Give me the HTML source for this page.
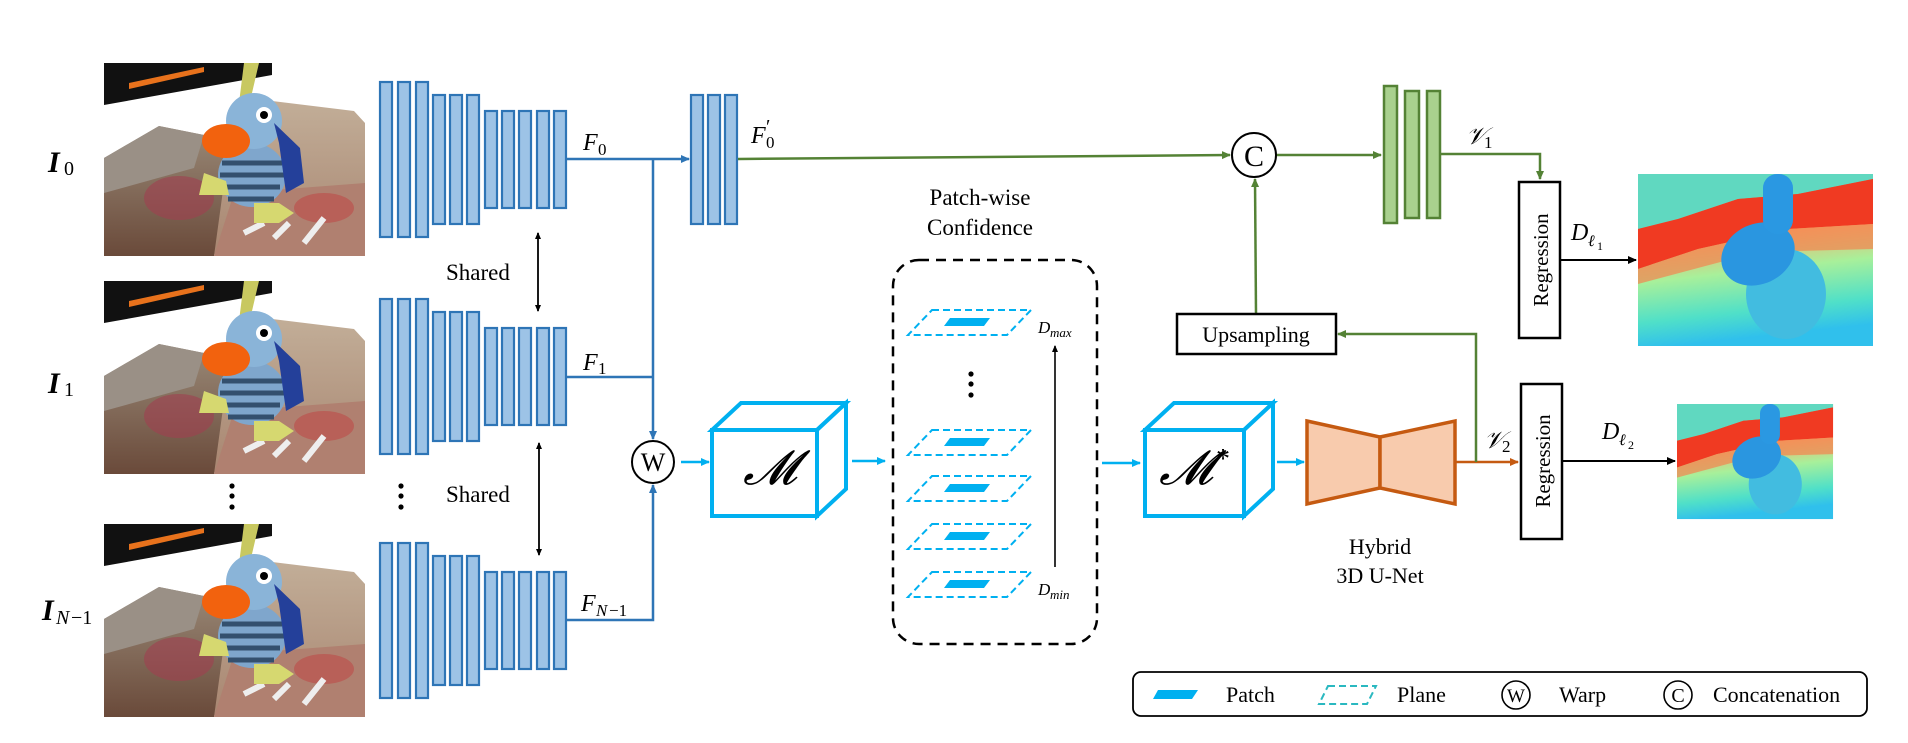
<!DOCTYPE html>
<html><head><meta charset="utf-8"><style>
html,body{margin:0;padding:0;background:#fff;}
svg{display:block;}
text{font-family:"Liberation Serif",serif;fill:#000;}
.it{font-style:italic;}
</style></head><body>
<svg width="1908" height="743" viewBox="0 0 1908 743" xmlns="http://www.w3.org/2000/svg">
<defs>
<marker id="ab" markerWidth="10" markerHeight="10" refX="8" refY="5" orient="auto" markerUnits="userSpaceOnUse"><path d="M0,1 L9,5 L0,9 Z" fill="#2e75b6"/></marker>
<marker id="ag" markerWidth="10" markerHeight="10" refX="8" refY="5" orient="auto" markerUnits="userSpaceOnUse"><path d="M0,1 L9,5 L0,9 Z" fill="#548235"/></marker>
<marker id="ac" markerWidth="10" markerHeight="10" refX="8" refY="5" orient="auto" markerUnits="userSpaceOnUse"><path d="M0,1 L9,5 L0,9 Z" fill="#00b0f0"/></marker>
<marker id="ao" markerWidth="10" markerHeight="10" refX="8" refY="5" orient="auto" markerUnits="userSpaceOnUse"><path d="M0,1 L9,5 L0,9 Z" fill="#c55a11"/></marker>
<marker id="ak" markerWidth="10" markerHeight="10" refX="8" refY="5" orient="auto" markerUnits="userSpaceOnUse"><path d="M0,1 L9,5 L0,9 Z" fill="#000"/></marker>
<marker id="aks" markerWidth="8" markerHeight="8" refX="6" refY="4" orient="auto-start-reverse" markerUnits="userSpaceOnUse"><path d="M0,1 L7,4 L0,7 Z" fill="#000"/></marker>
<linearGradient id="dg" x1="0" y1="0" x2="0.15" y2="1">
<stop offset="0" stop-color="#f04a2a"/><stop offset="0.3" stop-color="#f26a3a"/><stop offset="0.42" stop-color="#f5b070"/><stop offset="0.62" stop-color="#a8f09a"/><stop offset="0.85" stop-color="#50e0c8"/><stop offset="1" stop-color="#30c0ec"/>
</linearGradient>
<linearGradient id="st1" x1="0" y1="0" x2="0" y2="1"><stop offset="0" stop-color="#9a8a78"/><stop offset="1" stop-color="#6a4a3a"/></linearGradient>
<linearGradient id="st2" x1="0" y1="0" x2="0" y2="1"><stop offset="0" stop-color="#c2ae98"/><stop offset="1" stop-color="#a88570"/></linearGradient>
<g id="photo">
<rect x="0" y="0" width="261" height="193" fill="#fff"/>
<polygon points="0,0 168,0 168,12 0,42" fill="#111"/>
<polygon points="25,20 100,4 100,9 25,26" fill="#e8721c"/>
<polygon points="0,95 55,63 100,72 130,100 110,193 0,193" fill="url(#st1)"/>
<polygon points="0,95 55,63 100,72 90,105 0,130" fill="#9a9086"/>
<polygon points="160,37 250,48 261,60 261,193 110,193 120,120 165,80" fill="url(#st2)"/>
<polygon points="130,130 261,120 261,193 110,193" fill="#b08070"/>
<ellipse cx="75" cy="135" rx="35" ry="22" fill="#a04050" opacity="0.6"/>
<ellipse cx="220" cy="145" rx="30" ry="15" fill="#c04040" opacity="0.5"/>
<path d="M140,170 l20,-10 M170,175 l15,-15 M200,180 l20,-25" stroke="#eee" stroke-width="6"/>
<polygon points="140,0 155,0 148,30 135,40" fill="#c8c860"/>
<ellipse cx="148" cy="112" rx="34" ry="32" fill="#7fa6cc"/>
<path d="M118,100 h60 M116,112 h64 M118,124 h58 M124,136 h46" stroke="#34506e" stroke-width="5"/>
<ellipse cx="150" cy="58" rx="28" ry="28" fill="#8ab4d8"/>
<circle cx="160" cy="52" r="8" fill="#fff"/><circle cx="160" cy="52" r="4" fill="#000"/>
<polygon points="170,60 196,85 200,120 182,130 175,80" fill="#24409a"/>
<ellipse cx="122" cy="78" rx="24" ry="17" fill="#f2620e"/>
<polygon points="100,110 122,118 125,132 95,132" fill="#d6d870"/>
<polygon points="150,140 175,140 190,150 175,160 150,160" fill="#d6d870"/>
</g>
<g id="depth">
<rect x="0" y="0" width="235" height="172" fill="url(#dg)"/>
<polygon points="0,0 235,0 235,5 160,20 100,25 40,45 0,55" fill="#60d8c0"/>
<polygon points="0,55 40,45 100,25 160,20 235,5 235,50 150,55 60,75 0,95" fill="#f03a22"/>
<polygon points="0,95 60,75 150,55 235,50 235,75 120,78 0,110" fill="#f28450" opacity="0.7"/>
<ellipse cx="148" cy="120" rx="40" ry="45" fill="#42bce0"/>
<ellipse cx="120" cy="80" rx="38" ry="30" fill="#2a96e0" transform="rotate(-25 120 80)"/>
<rect x="125" y="0" width="30" height="60" rx="14" fill="#2a98e2"/>
</g>
<g id="enc" fill="#9dc3e6" stroke="#2e75b6" stroke-width="2.2">
<rect x="380" y="82" width="12" height="155"/><rect x="398" y="82" width="12" height="155"/><rect x="416" y="82" width="12" height="155"/>
<rect x="433" y="95" width="12" height="129"/><rect x="450" y="95" width="12" height="129"/><rect x="467" y="95" width="12" height="129"/>
<rect x="485" y="111" width="12" height="97"/><rect x="502" y="111" width="12" height="97"/><rect x="519" y="111" width="12" height="97"/><rect x="537" y="111" width="12" height="97"/><rect x="554" y="111" width="12" height="97"/>
</g>
<g id="pl">
<polygon points="932,310 1031,310 1007,335 908,335" fill="none" stroke="#00b0f0" stroke-width="2" stroke-dasharray="7,4"/>
<polygon points="950,318 990,318 984,326 944,326" fill="#00b0f0"/>
</g>
</defs>

<!-- photos -->
<use href="#photo" x="104" y="63"/>
<use href="#photo" x="104" y="281"/>
<use href="#photo" x="104" y="524"/>

<text x="48" y="172" font-size="30" font-weight="bold" class="it">I</text><text x="64" y="175" font-size="20">0</text>
<text x="48" y="393" font-size="30" font-weight="bold" class="it">I</text><text x="64" y="396" font-size="20">1</text>
<text x="42" y="620" font-size="30" font-weight="bold" class="it">I</text><text x="56" y="624" font-size="20" class="it">N</text><text x="71" y="624" font-size="20">−1</text>

<!-- encoder bars -->
<use href="#enc"/>
<use href="#enc" y="217"/>
<use href="#enc" y="461"/>
<!-- F0' bars -->
<g fill="#9dc3e6" stroke="#2e75b6" stroke-width="2.2">
<rect x="691" y="95" width="12" height="129"/><rect x="708" y="95" width="12" height="129"/><rect x="725" y="95" width="12" height="129"/>
</g>

<!-- blue connectors -->
<g stroke="#2e75b6" stroke-width="2.5" fill="none">
<line x1="567" y1="159" x2="689" y2="159" marker-end="url(#ab)"/>
<line x1="653" y1="159" x2="653" y2="439" marker-end="url(#ab)"/>
<line x1="567" y1="377" x2="653" y2="377"/>
<polyline points="567,620 653,620 653,485" marker-end="url(#ab)"/>
</g>
<text x="583" y="150" font-size="24" class="it">F</text><text x="598" y="155" font-size="17">0</text>
<text x="583" y="370" font-size="24" class="it">F</text><text x="598" y="374" font-size="17">1</text>
<text x="581" y="611" font-size="24" class="it">F</text><text x="596" y="616" font-size="17" class="it">N</text><text x="609" y="616" font-size="17">−1</text>
<text x="751" y="143" font-size="24" class="it">F</text><text x="766" y="133" font-size="20">′</text><text x="766" y="148" font-size="17">0</text>

<!-- shared -->
<text x="446" y="280" font-size="23">Shared</text>
<text x="446" y="502" font-size="23">Shared</text>
<line x1="538" y1="233" x2="538" y2="311" stroke="#000" stroke-width="1.8" marker-start="url(#aks)" marker-end="url(#aks)"/>
<line x1="539" y1="443" x2="539" y2="555" stroke="#000" stroke-width="1.8" marker-start="url(#aks)" marker-end="url(#aks)"/>
<g fill="#000"><circle cx="232" cy="486" r="2.6"/><circle cx="232" cy="496" r="2.6"/><circle cx="232" cy="507" r="2.6"/>
<circle cx="401" cy="486" r="2.6"/><circle cx="401" cy="496" r="2.6"/><circle cx="401" cy="507" r="2.6"/>
<circle cx="971" cy="374" r="2.6"/><circle cx="971" cy="384" r="2.6"/><circle cx="971" cy="395" r="2.6"/></g>

<!-- W circle -->
<circle cx="653" cy="462" r="21" fill="#fff" stroke="#000" stroke-width="2"/>
<text x="653" y="471" font-size="26" text-anchor="middle">W</text>

<!-- cyan arrows -->
<g stroke="#00b0f0" stroke-width="2.5">
<line x1="681" y1="462" x2="709" y2="462" marker-end="url(#ac)"/>
<line x1="852" y1="461" x2="885" y2="461" marker-end="url(#ac)"/>
<line x1="1102" y1="463" x2="1140" y2="463" marker-end="url(#ac)"/>
<line x1="1277" y1="462" x2="1304" y2="462" marker-end="url(#ac)"/>
</g>

<!-- cubes -->
<g fill="#fff" stroke="#00b0f0" stroke-width="4" stroke-linejoin="miter">
<polygon points="712,430 741,403 846,403 817,430"/>
<polygon points="817,430 846,403 846,489 817,516"/>
<rect x="712" y="430" width="105" height="86"/>
<polygon points="1145,430 1174,403 1273,403 1244,430"/>
<polygon points="1244,430 1273,403 1273,489 1244,516"/>
<rect x="1145" y="430" width="99" height="86"/>
</g>
<text x="770" y="484" font-size="48" class="it" text-anchor="middle">𝓜</text>
<text x="1186" y="484" font-size="48" class="it" text-anchor="middle">𝓜</text>
<text x="1216" y="468" font-size="28">*</text>

<!-- patch-wise confidence -->
<text x="980" y="205" font-size="23" text-anchor="middle">Patch-wise</text>
<text x="980" y="235" font-size="23" text-anchor="middle">Confidence</text>
<rect x="893" y="260" width="204" height="384" rx="26" fill="none" stroke="#000" stroke-width="2.5" stroke-dasharray="10,7"/>
<use href="#pl"/><use href="#pl" y="120"/><use href="#pl" y="166"/><use href="#pl" y="214"/><use href="#pl" y="262"/>
<line x1="1055" y1="567" x2="1055" y2="346" stroke="#000" stroke-width="1.6" marker-end="url(#aks)"/>
<text x="1038" y="333" font-size="17" class="it">D</text><text x="1050" y="337" font-size="13" class="it">max</text>
<text x="1038" y="595" font-size="17" class="it">D</text><text x="1050" y="599" font-size="13" class="it">min</text>

<!-- U-Net -->
<polygon points="1307,421 1380,437 1380,488 1307,504" fill="#f8cbad" stroke="#c55a11" stroke-width="3.5"/>
<polygon points="1380,437 1455,421 1455,504 1380,488" fill="#f8cbad" stroke="#c55a11" stroke-width="3.5"/>
<text x="1380" y="554" font-size="22" text-anchor="middle">Hybrid</text>
<text x="1380" y="583" font-size="22" text-anchor="middle">3D U-Net</text>
<line x1="1456" y1="462" x2="1518" y2="462" stroke="#c55a11" stroke-width="2.5" marker-end="url(#ao)"/>
<text x="1484" y="448" font-size="24" class="it">𝒱</text><text x="1502" y="452" font-size="17">2</text>

<!-- green path -->
<g stroke="#548235" stroke-width="2.5" fill="none">
<line x1="738" y1="159" x2="1230" y2="155" marker-end="url(#ag)"/>
<line x1="1276" y1="155" x2="1381" y2="155" marker-end="url(#ag)"/>
<line x1="1256" y1="314" x2="1255" y2="179" marker-end="url(#ag)"/>
<polyline points="1476,462 1476,334 1338,334" marker-end="url(#ag)"/>
<polyline points="1441,154 1540,154 1540,179" marker-end="url(#ag)"/>
</g>
<circle cx="1254" cy="155" r="22" fill="#fff" stroke="#000" stroke-width="2"/>
<text x="1254" y="166" font-size="30" text-anchor="middle">C</text>
<rect x="1177" y="314" width="159" height="40" fill="#fff" stroke="#000" stroke-width="2.5"/>
<text x="1256" y="342" font-size="22" text-anchor="middle">Upsampling</text>
<g fill="#a9d18e" stroke="#548235" stroke-width="2.5">
<rect x="1384" y="86" width="13" height="137"/><rect x="1405" y="91" width="14" height="127"/><rect x="1427" y="91" width="13" height="127"/>
</g>
<text x="1466" y="144" font-size="24" class="it">𝒱</text><text x="1484" y="148" font-size="17">1</text>

<!-- regression -->
<rect x="1519" y="182" width="41" height="156" fill="#fff" stroke="#000" stroke-width="2.5"/>
<text transform="translate(1548 260) rotate(-90)" font-size="21" text-anchor="middle">Regression</text>
<rect x="1521" y="384" width="41" height="155" fill="#fff" stroke="#000" stroke-width="2.5"/>
<text transform="translate(1550 461) rotate(-90)" font-size="21" text-anchor="middle">Regression</text>
<line x1="1560" y1="260" x2="1636" y2="260" stroke="#000" stroke-width="2" marker-end="url(#ak)"/>
<line x1="1562" y1="461" x2="1675" y2="461" stroke="#000" stroke-width="2" marker-end="url(#ak)"/>
<text x="1571" y="240" font-size="24" class="it">D</text><text x="1588" y="246" font-size="16" class="it">ℓ</text><text x="1597" y="250" font-size="12">1</text>
<text x="1602" y="439" font-size="24" class="it">D</text><text x="1619" y="445" font-size="16" class="it">ℓ</text><text x="1628" y="449" font-size="12">2</text>

<!-- depth maps -->
<use href="#depth" x="1638" y="174"/>
<g transform="translate(1677 404) scale(0.664 0.669)"><use href="#depth"/></g>

<!-- legend -->
<rect x="1133" y="672" width="734" height="44" rx="8" fill="#fff" stroke="#000" stroke-width="1.8"/>
<polygon points="1158,690 1198,690 1192,699 1153,699" fill="#00b0f0"/>
<text x="1226" y="702" font-size="22">Patch</text>
<polygon points="1328,686 1376,686 1367,704 1319,704" fill="none" stroke="#2ab8c0" stroke-width="2" stroke-dasharray="7,4"/>
<text x="1397" y="702" font-size="22">Plane</text>
<circle cx="1516" cy="695" r="14" fill="#fff" stroke="#000" stroke-width="1.6"/>
<text x="1516" y="702" font-size="19" text-anchor="middle">W</text>
<text x="1559" y="702" font-size="22">Warp</text>
<circle cx="1678" cy="695" r="14" fill="#fff" stroke="#000" stroke-width="1.6"/>
<text x="1678" y="702" font-size="20" text-anchor="middle">C</text>
<text x="1713" y="702" font-size="22">Concatenation</text>
</svg>
</body></html>
